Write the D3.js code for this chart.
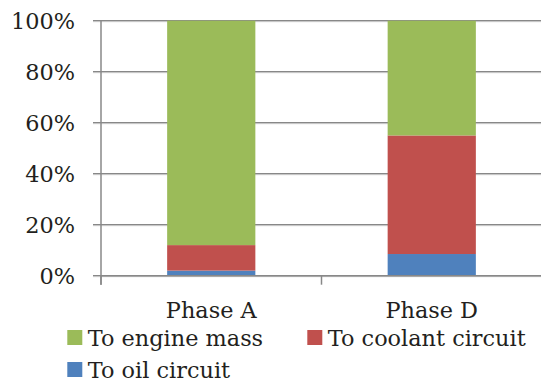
<!DOCTYPE html>
<html>
<head>
<meta charset="utf-8">
<script src="https://cdn.jsdelivr.net/npm/d3@7"></script>
<style>
  html, body { margin: 0; padding: 0; background: #fff; }
  svg { display: block; }
  text { font-family: "DejaVu Serif", serif; fill: #231f20; }
</style>
</head>
<body>
<svg id="chart" width="541" height="383"></svg>
<script>
const categories = ["Phase A", "Phase D"];
const seriesNames = ["To oil circuit", "To coolant circuit", "To engine mass"];
const oilCircuit = [2, 8.5];
const coolantCircuit = [10, 46.5];
const engineMass = [88, 45];
const yTicks = [0, 20, 40, 60, 80, 100];
const seriesColors = ["#4F81BD", "#C0504D", "#9BBB59"];

const svg = d3.select("#chart");
const margin = { left: 101, top: 20.7, bottom: 275.7 };

const rows = categories.map((c, i) => ({
  cat: c,
  "To oil circuit": oilCircuit[i],
  "To coolant circuit": coolantCircuit[i],
  "To engine mass": engineMass[i]
}));
const stack = d3.stack().keys(seriesNames)(rows);

const x = d3.scaleBand().domain(categories).range([margin.left, margin.left + 2 * 220.5])
  .paddingInner(0.6).paddingOuter(0.3);
const y = d3.scaleLinear().domain([0, 100]).range([margin.bottom, margin.top]);

// gridlines
const grid = svg.append("g");
yTicks.forEach(t => {
  grid.append("line").attr("x1", margin.left - 8).attr("x2", 541)
    .attr("y1", y(t) + 1).attr("y2", y(t) + 1).attr("stroke", "#d6d6d6").attr("stroke-width", 1);
  grid.append("line").attr("x1", margin.left - 8).attr("x2", 541)
    .attr("y1", y(t)).attr("y2", y(t)).attr("stroke", "#888888").attr("stroke-width", 1.3);
});

// bars
svg.append("g").selectAll("g").data(stack).join("g")
  .attr("fill", (d, i) => seriesColors[i])
  .selectAll("rect").data(d => d).join("rect")
  .attr("x", d => x(d.data.cat))
  .attr("width", x.bandwidth())
  .attr("y", d => y(d[1]))
  .attr("height", d => y(d[0]) - y(d[1]));

// y axis
const yAxis = d3.axisLeft(y).tickValues(yTicks).tickFormat(d => d + "%").tickSize(8).tickPadding(18);
const ya = svg.append("g").attr("transform", `translate(${margin.left},0)`).call(yAxis);
ya.select(".domain").remove();
ya.selectAll(".tick line").remove();
ya.selectAll("text").style("font-family", '"DejaVu Serif", serif').style("font-size", "22.4px")
  .attr("fill", "#231f20").attr("dy", "0.36em").attr("x", -26);
ya.append("line").attr("x1", 0).attr("x2", 0).attr("y1", margin.top).attr("y2", margin.bottom + 9)
  .attr("stroke", "#888888").attr("stroke-width", 1.5);

// x axis
const xa = svg.append("g").attr("transform", `translate(0,${margin.bottom})`);
xa.append("line").attr("x1", margin.left).attr("x2", 541).attr("stroke", "#888888").attr("stroke-width", 1.5);
const bounds = [margin.left, margin.left + x.step(), margin.left + 2 * x.step()];
bounds.forEach(b => xa.append("line").attr("x1", b).attr("x2", b).attr("y1", 0).attr("y2", 9)
  .attr("stroke", "#888888").attr("stroke-width", 1.5));
xa.selectAll("text.cat").data(categories).join("text").attr("class", "cat")
  .attr("x", d => x(d) + x.bandwidth() / 2).attr("y", 318 - margin.bottom)
  .attr("text-anchor", "middle").style("font-size", "22.4px").text(d => d);

// legend
const legendItems = [
  { name: "To engine mass", color: seriesColors[2], x: 67.3, y: 330 },
  { name: "To coolant circuit", color: seriesColors[1], x: 307.3, y: 330 },
  { name: "To oil circuit", color: seriesColors[0], x: 67.3, y: 362 }
];
const lg = svg.append("g").selectAll("g").data(legendItems).join("g")
  .attr("transform", d => `translate(${d.x},${d.y})`);
lg.append("rect").attr("width", 15).attr("height", 15).attr("fill", d => d.color);
lg.append("text").attr("x", 20.5).attr("y", 15.5).style("font-size", "22.4px").text(d => d.name);
</script>
</body>
</html>
